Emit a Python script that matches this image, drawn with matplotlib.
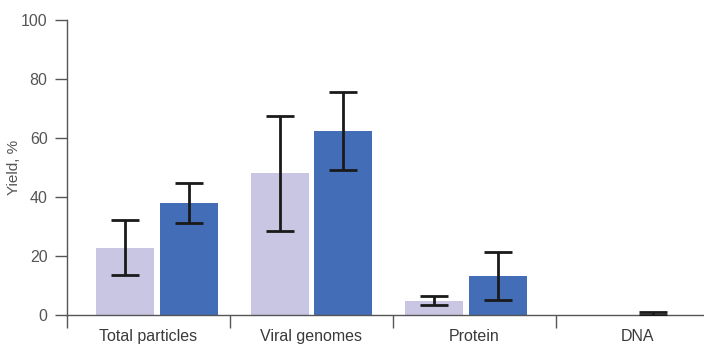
import matplotlib
matplotlib.use('Agg')
from matplotlib import pyplot as plt
import numpy as np

categories = ['Total particles', 'Viral genomes', 'Protein', 'DNA']
light_vals = [22.8, 48.0, 4.8]
light_err = [9.4, 19.6, 1.5]
dark_vals = [38.0, 62.4, 13.3]
dark_err = [6.9, 13.3, 8.2]
dna_val = 0.5
dna_err = 0.4

light_col = '#c8c6e3'
dark_col = '#436db6'
grey = '#555555'

plt.rcParams['font.family'] = ['Liberation Sans', 'DejaVu Sans']

fig = plt.figure(figsize=(7.04, 3.44), dpi=100)
ax = fig.add_axes([0.0952, 0.0843, 0.9048, 0.8575])

x = np.arange(len(categories))
# bar pairs are spaced a bit tighter than the category slots
group_x = -0.144 + 0.9494 * x
w = 0.356
dark_off = 0.39

ax.bar(group_x[:3], light_vals, w, color=light_col, zorder=1)
ax.bar(group_x[:3] + dark_off, dark_vals, w, color=dark_col, zorder=1)

ekw = dict(fmt='none', ecolor='#1a1a1a', elinewidth=2, capsize=10, capthick=2, zorder=3)
ax.errorbar(group_x[:3], light_vals, yerr=light_err, **ekw)
ax.errorbar(group_x[:3] + dark_off, dark_vals, yerr=dark_err, **ekw)
ax.errorbar([group_x[3] + dark_off], [dna_val], yerr=[dna_err], **ekw)

ax.set_ylim(0, 100)
ax.set_xlim(-0.5, 3.41)
ax.set_yticks([0, 20, 40, 60, 80, 100])

# category boundaries as major ticks, labels on minor ticks
ax.set_xticks([-0.5, 0.5, 1.5, 2.5])
ax.set_xticklabels([])
ax.set_xticks(x, minor=True)
ax.set_xticklabels(categories, minor=True)
ax.tick_params(axis='x', which='major', direction='out', length=9, width=1, color=grey)
ax.tick_params(axis='x', which='minor', length=0, pad=10, labelsize=11.5, labelcolor='#3a3a3a')
ax.tick_params(axis='y', direction='out', length=9, width=1, color=grey,
               labelsize=11.5, labelcolor=grey, pad=5)

for s in ['top', 'right']:
    ax.spines[s].set_visible(False)
for s in ['left', 'bottom']:
    ax.spines[s].set_color(grey)
    ax.spines[s].set_linewidth(1)

ax.set_ylabel('Yield, %', fontsize=11, color=grey)
ax.yaxis.set_label_coords(-0.072, 0.5)

fig.savefig('out.png', dpi=100)
